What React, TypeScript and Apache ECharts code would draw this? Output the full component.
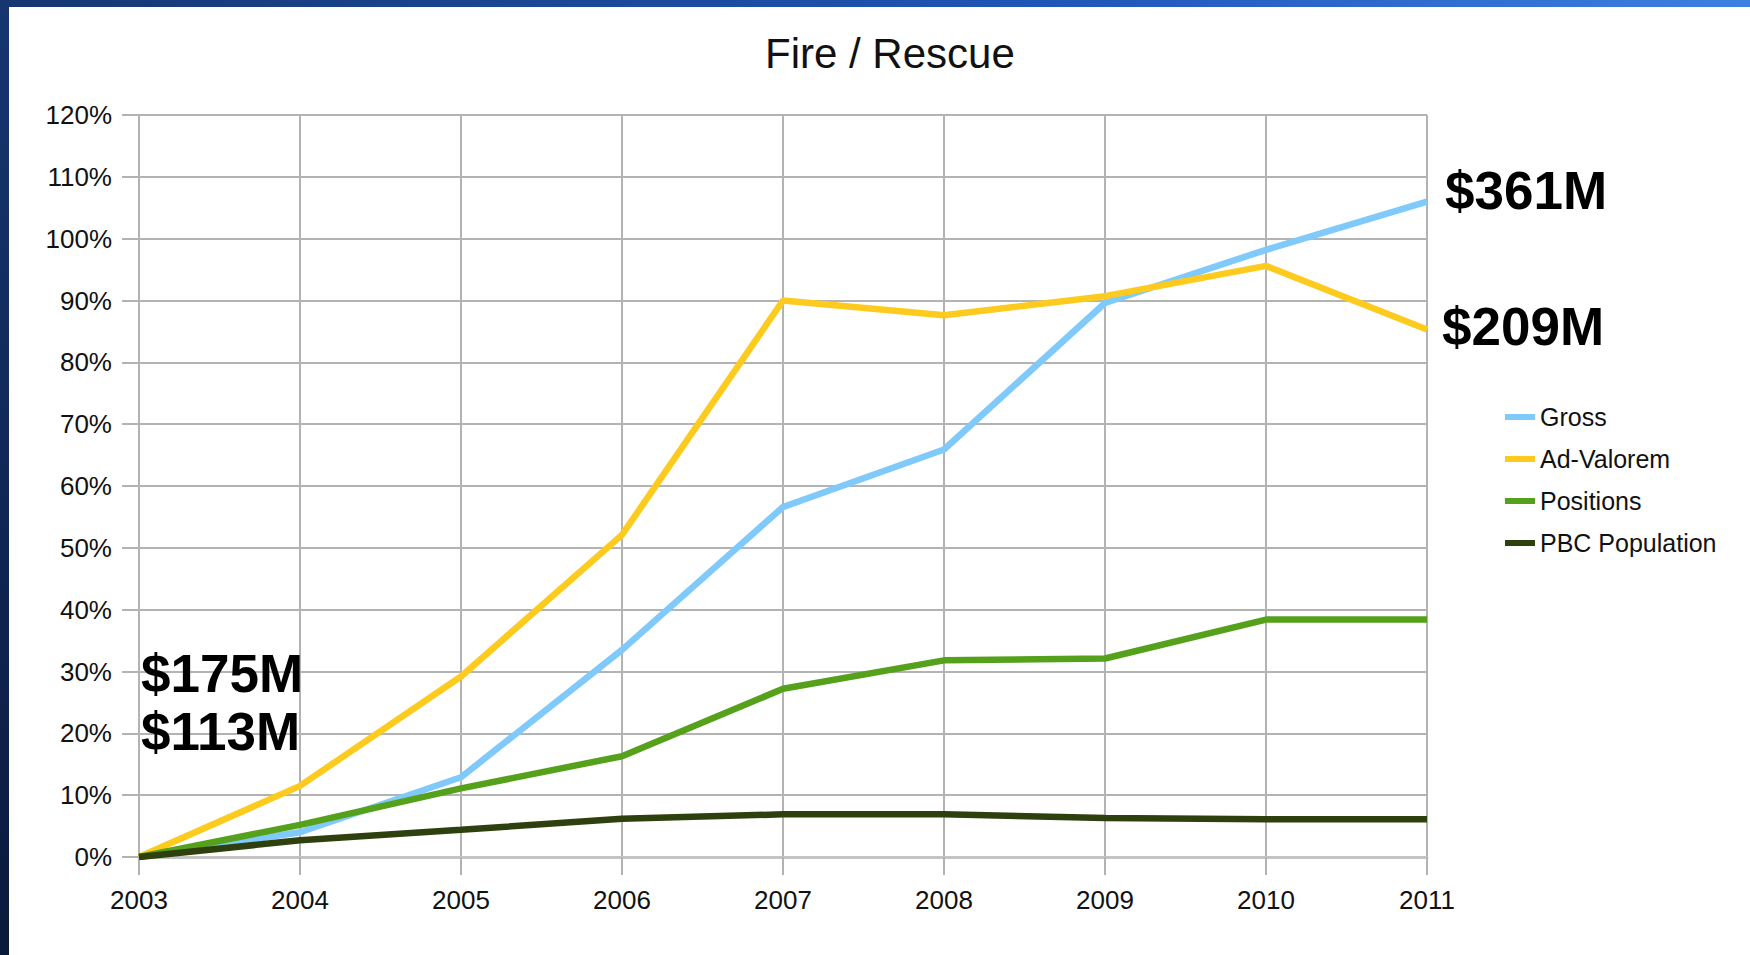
import React, { useEffect, useRef } from "react";
import * as echarts from "echarts";

const years = ["2003", "2004", "2005", "2006", "2007", "2008", "2009", "2010", "2011"];
const gross = [0, 4.0, 12.9, 33.5, 56.6, 65.9, 89.6, 98.2, 106.0];
const adValorem = [0, 11.5, 29.2, 52.1, 90.0, 87.6, 90.7, 95.6, 85.3];
const positions = [0, 5.2, 11.1, 16.3, 27.2, 31.8, 32.1, 38.4, 38.4];
const population = [0, 2.7, 4.4, 6.2, 6.9, 6.9, 6.3, 6.1, 6.1];

const seriesNames = ["Gross", "Ad-Valorem", "Positions", "PBC Population"];
const seriesColors = ["#7fc9fb", "#fdcb1e", "#55a11b", "#2f400f"];
const seriesData = [gross, adValorem, positions, population];

const annotations = [
  { text: "$361M", x: 1445, y: 190 },
  { text: "$209M", x: 1442, y: 326 },
  { text: "$175M", x: 141, y: 673 },
  { text: "$113M", x: 141, y: 731 },
];

const FONT = "'Liberation Sans', Arial, sans-serif";

export default function App() {
  const ref = useRef<HTMLDivElement>(null);

  useEffect(() => {
    if (!ref.current) return;
    const chart = echarts.init(ref.current, null, { renderer: "svg" });
    const gridColor = "#b3b3b3";
    chart.setOption({
      animation: false,
      backgroundColor: "#ffffff",
      title: {
        text: "Fire / Rescue",
        left: 765,
        top: 32,
        padding: 0,
        textStyle: { fontFamily: FONT, fontSize: 42, fontWeight: "normal", color: "#111" },
      },
      legend: {
        orient: "vertical",
        left: 1500,
        top: 398,
        icon: "rect",
        itemWidth: 30,
        itemHeight: 6,
        itemGap: 14,
        data: seriesNames,
        textStyle: { fontFamily: FONT, fontSize: 25, color: "#111", lineHeight: 28 },
      },
      grid: { left: 139, right: 323, top: 115, bottom: 98, containLabel: false },
      xAxis: {
        type: "category",
        data: years,
        boundaryGap: false,
        axisLine: { show: true, lineStyle: { color: "#c4c4c4", width: 3 } },
        axisTick: { show: true, length: 18, lineStyle: { color: gridColor, width: 2 } },
        axisLabel: { margin: 30, fontFamily: FONT, fontSize: 26, color: "#111" },
        splitLine: { show: true, lineStyle: { color: gridColor, width: 2 } },
      },
      yAxis: {
        type: "value",
        min: 0,
        max: 120,
        interval: 10,
        axisLine: { show: true, lineStyle: { color: gridColor, width: 2 } },
        axisTick: { show: true, length: 17, lineStyle: { color: gridColor, width: 2 } },
        axisLabel: {
          margin: 27,
          fontFamily: FONT,
          fontSize: 26,
          color: "#111",
          formatter: "{value}%",
        },
        splitLine: { show: true, lineStyle: { color: gridColor, width: 2 } },
      },
      series: seriesNames.map((name, i) => ({
        name,
        type: "line",
        data: seriesData[i],
        showSymbol: false,
        symbol: "none",
        lineStyle: { color: seriesColors[i], width: 6.5 },
        itemStyle: { color: seriesColors[i] },
      })),
      graphic: [
        {
          type: "rect",
          shape: { x: 0, y: 0, width: 1750, height: 7 },
          style: {
            fill: new echarts.graphic.LinearGradient(0, 0, 1, 0, [
              { offset: 0, color: "#163670" },
              { offset: 0.6, color: "#1f56b8" },
              { offset: 1, color: "#3d80e2" },
            ]),
          },
          z: 100,
        },
        {
          type: "rect",
          shape: { x: 0, y: 0, width: 9, height: 955 },
          style: {
            fill: new echarts.graphic.LinearGradient(0, 0, 0, 1, [
              { offset: 0, color: "#163670" },
              { offset: 1, color: "#0a1a3c" },
            ]),
          },
          z: 100,
        },
        ...annotations.map((a) => ({
          type: "text",
          x: a.x,
          y: a.y,
          z: 100,
          style: {
            text: a.text,
            fontFamily: FONT,
            fontSize: 53,
            fontWeight: "bold",
            fill: "#000",
            verticalAlign: "middle",
            textAlign: "left",
          },
        })),
      ],
    });
    return () => chart.dispose();
  }, []);

  return (
    <div
      ref={ref}
      style={{ position: "absolute", left: 0, top: 0, width: 1750, height: 955 }}
    />
  );
}
